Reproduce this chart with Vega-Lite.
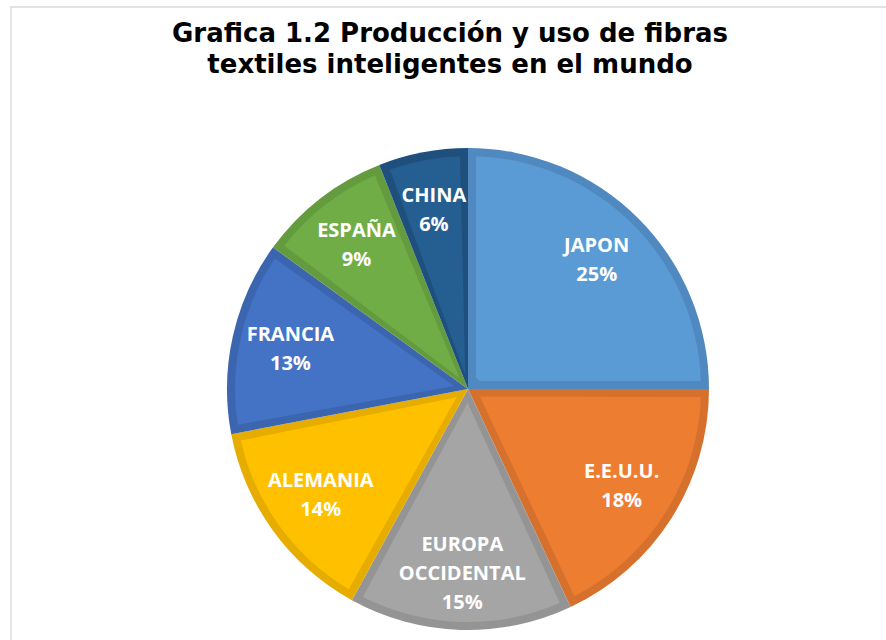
{
  "$schema": "https://vega.github.io/schema/vega-lite/v6.json",
  "width": 914,
  "height": 764,
  "autosize": {"type": "none"},
  "padding": {"left": 11, "top": 7, "right": -39, "bottom": -131},
  "background": "white",
  "config": {"view": {"stroke": null}},
  "title": {
    "text": ["Grafica 1.2 Producción y uso de fibras", "textiles inteligentes en el mundo"],
    "font": "DejaVu Sans",
    "fontSize": 26,
    "fontWeight": "bold",
    "color": "#000000",
    "anchor": "middle",
    "baseline": "top",
    "offset": -12,
    "dx": -18,
    "dy": 60,
    "lineHeight": 31
  },
  "datasets": {
    "fibras": [
      {"pais": "JAPON", "valor": 25, "orden": 1},
      {"pais": "E.E.U.U.", "valor": 18, "orden": 2},
      {"pais": "EUROPA OCCIDENTAL", "valor": 15, "orden": 3},
      {"pais": "ALEMANIA", "valor": 14, "orden": 4},
      {"pais": "FRANCIA", "valor": 13, "orden": 5},
      {"pais": "ESPAÑA", "valor": 9, "orden": 6},
      {"pais": "CHINA", "valor": 6, "orden": 7}
    ],
    "marco": [{"id": 1}]
  },
  "data": {"name": "fibras"},
  "transform": [{"calculate": "datum.pais + ' ' + datum.valor + '%'", "as": "etiqueta"}],
  "layer": [
    {
      "data": {"name": "marco"},
      "mark": {"type": "rect", "fill": null, "stroke": "#D9D9D9", "strokeWidth": 1.3},
      "encoding": {}
    },
    {
      "mark": {"type": "arc", "outerRadius": 241},
      "encoding": {
        "theta": {"field": "valor", "type": "quantitative", "stack": true},
        "order": {"field": "orden", "type": "quantitative"},
        "color": {
          "field": "pais", "type": "nominal", "legend": null,
          "scale": {
            "domain": ["JAPON", "E.E.U.U.", "EUROPA OCCIDENTAL", "ALEMANIA", "FRANCIA", "ESPAÑA", "CHINA"],
            "range": ["#5089BF", "#D6712D", "#949494", "#E6AD00", "#3C65AF", "#649B3F", "#1F4F7C"]
          }
        }
      }
    },
    {
      "mark": {"type": "arc", "outerRadius": 233, "innerRadius": 14, "padAngle": 0.0686},
      "encoding": {
        "theta": {"field": "valor", "type": "quantitative", "stack": true},
        "order": {"field": "orden", "type": "quantitative"},
        "color": {
          "field": "pais", "type": "nominal", "legend": null,
          "scale": {
            "domain": ["JAPON", "E.E.U.U.", "EUROPA OCCIDENTAL", "ALEMANIA", "FRANCIA", "ESPAÑA", "CHINA"],
            "range": ["#5B9BD5", "#ED7D31", "#A5A5A5", "#FFC000", "#4472C4", "#70AD47", "#255E91"]
          }
        }
      }
    },
    {
      "mark": {
        "type": "text", "radius": 182, "font": "Open Sans", "fontSize": 20, "fontWeight": "bold",
        "color": "#FFFFFF", "lineBreak": " ", "lineHeight": 29, "align": "center", "baseline": "middle", "dy": -14.5
      },
      "encoding": {
        "theta": {"field": "valor", "type": "quantitative", "stack": true},
        "order": {"field": "orden", "type": "quantitative"},
        "text": {"condition": {"test": "datum.orden == 3", "value": ""}, "field": "etiqueta", "type": "nominal"}
      }
    },
    {
      "mark": {
        "type": "text", "radius": 182, "font": "Open Sans", "fontSize": 20, "fontWeight": "bold",
        "color": "#FFFFFF", "lineBreak": " ", "lineHeight": 29, "align": "center", "baseline": "middle", "dy": -26
      },
      "encoding": {
        "theta": {"field": "valor", "type": "quantitative", "stack": true},
        "order": {"field": "orden", "type": "quantitative"},
        "text": {"condition": {"test": "datum.orden != 3", "value": ""}, "field": "etiqueta", "type": "nominal"}
      }
    }
  ],
  "resolve": {"scale": {"color": "independent"}}
}
